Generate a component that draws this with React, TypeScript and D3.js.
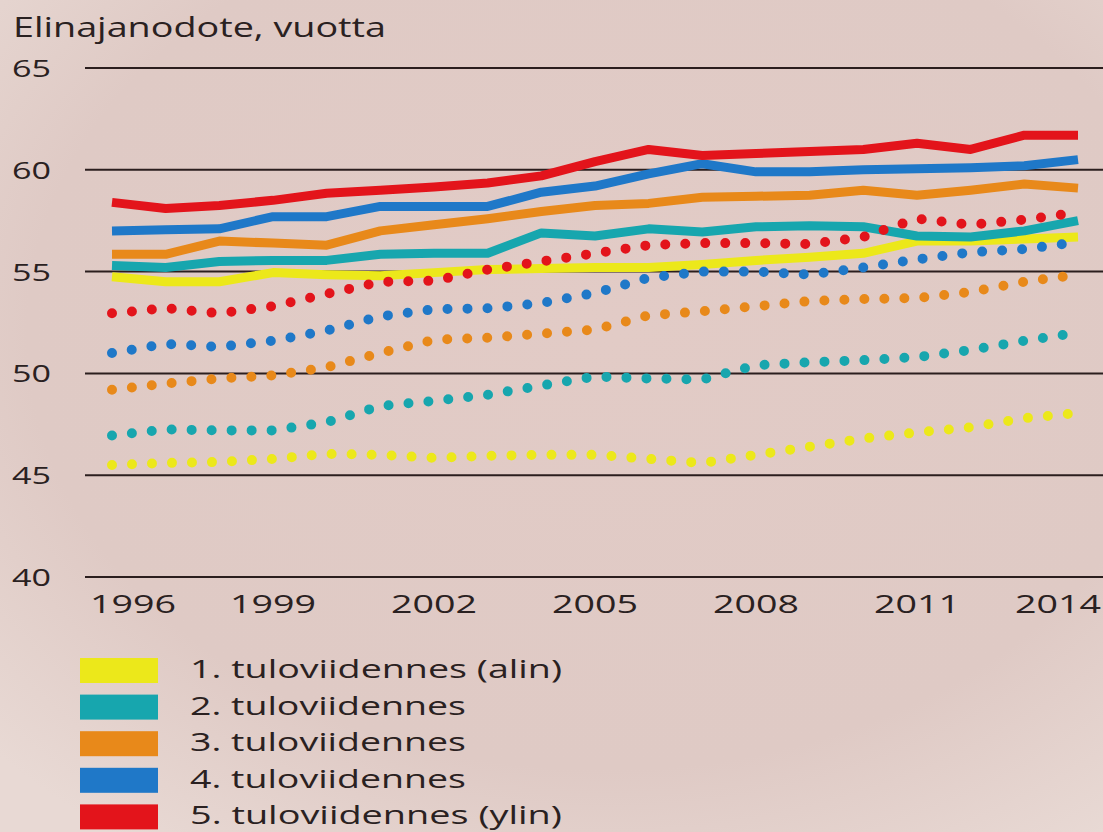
import * as d3 from "d3";
import { useEffect, useRef } from "react";

const years = d3.range(1996, 2015);

const groups = [
  "1. tuloviidennes (alin)",
  "2. tuloviidennes",
  "3. tuloviidennes",
  "4. tuloviidennes",
  "5. tuloviidennes (ylin)",
];
const colors = ["#ece81a", "#17a6ae", "#e8891a", "#1f78c8", "#e3141b"];

// solid lines
const solid1 = [54.75, 54.5, 54.5, 54.95, 54.85, 54.8, 54.95, 55.1, 55.15, 55.2, 55.2, 55.35, 55.55, 55.7, 55.9, 56.5, 56.5, 56.6, 56.7];
const solid2 = [55.3, 55.2, 55.5, 55.55, 55.55, 55.85, 55.9, 55.9, 56.9, 56.75, 57.1, 56.95, 57.2, 57.25, 57.2, 56.75, 56.7, 57.0, 57.5];
const solid3 = [55.85, 55.85, 56.5, 56.4, 56.3, 57.0, 57.3, 57.6, 57.95, 58.25, 58.35, 58.65, 58.7, 58.75, 59.0, 58.75, 59.0, 59.3, 59.1];
const solid4 = [57.0, 57.05, 57.1, 57.7, 57.7, 58.2, 58.2, 58.2, 58.9, 59.2, 59.8, 60.3, 59.9, 59.9, 60.0, 60.05, 60.1, 60.2, 60.5];
const solid5 = [58.4, 58.1, 58.25, 58.5, 58.85, 59.0, 59.15, 59.35, 59.7, 60.4, 61.0, 60.7, 60.8, 60.9, 61.0, 61.3, 61.0, 61.7, 61.7];

// dotted lines
const dot1 = [45.5, 45.6, 45.65, 45.8, 46.05, 46.0, 45.85, 45.95, 46.0, 46.0, 45.8, 45.6, 46.0, 46.4, 46.8, 47.1, 47.35, 47.8, 48.05];
const dot2 = [46.95, 47.25, 47.2, 47.2, 47.6, 48.4, 48.65, 48.95, 49.4, 49.85, 49.75, 49.7, 50.4, 50.55, 50.65, 50.8, 51.15, 51.6, 52.0];
const dot3 = [49.2, 49.5, 49.75, 49.9, 50.3, 51.0, 51.65, 51.75, 51.95, 52.15, 52.85, 53.05, 53.3, 53.55, 53.65, 53.7, 54.0, 54.5, 54.85];
const dot4 = [51.0, 51.45, 51.3, 51.6, 52.1, 52.8, 53.15, 53.2, 53.45, 53.95, 54.7, 55.0, 55.0, 54.85, 55.2, 55.6, 55.95, 56.1, 56.45];
const dot5 = [52.95, 53.2, 52.95, 53.3, 53.9, 54.5, 54.55, 55.1, 55.5, 55.9, 56.3, 56.4, 56.4, 56.35, 56.7, 57.6, 57.3, 57.55, 57.9];

const solidSeries = [solid1, solid2, solid3, solid4, solid5];
const dotSeries = [dot1, dot2, dot3, dot4, dot5];

const yTicks = [40, 45, 50, 55, 60, 65];
const xTicks = [1996, 1999, 2002, 2005, 2008, 2011, 2014];

const title = "Elinajanodote, vuotta";

const App = () => {
  const ref = useRef<SVGSVGElement | null>(null);

  useEffect(() => {
    if (!ref.current) return;
    const W = 1103,
      H = 832;
    const svg = d3.select(ref.current);
    svg.selectAll("*").remove();

    const defs = svg.append("defs");
    const grad = defs
      .append("radialGradient")
      .attr("id", "bg")
      .attr("cx", "55%")
      .attr("cy", "40%")
      .attr("r", "75%");
    grad.append("stop").attr("offset", "0%").attr("stop-color", "#e2cbc6");
    grad.append("stop").attr("offset", "70%").attr("stop-color", "#dfcac5");
    grad.append("stop").attr("offset", "100%").attr("stop-color", "#e8d9d4");

    svg.append("rect").attr("width", W).attr("height", H).attr("fill", "url(#bg)");

    const font = "'Open Sans', 'DejaVu Sans', sans-serif";
    const ink = "#2a2121";

    const x = d3.scaleLinear().domain([1996, 2014]).range([112, 1078]);
    const y = d3.scaleLinear().domain([40, 65]).range([577, 68]);

    // gridlines
    svg
      .append("g")
      .selectAll("line")
      .data(yTicks)
      .enter()
      .append("line")
      .attr("x1", 85)
      .attr("x2", W)
      .attr("y1", (d) => y(d))
      .attr("y2", (d) => y(d))
      .attr("stroke", "#2b1e1e")
      .attr("stroke-width", 2);

    // the original type is wide, so texts are stretched to its widths
    svg
      .append("g")
      .selectAll("text")
      .data(yTicks)
      .enter()
      .append("text")
      .attr("x", 12)
      .attr("y", (d) => y(d) + 9)
      .attr("font-family", font)
      .attr("font-size", 24)
      .attr("textLength", 39)
      .attr("lengthAdjust", "spacingAndGlyphs")
      .attr("fill", ink)
      .text((d) => String(d));

    svg
      .append("text")
      .attr("x", 13)
      .attr("y", 37)
      .attr("font-family", font)
      .attr("font-size", 28)
      .attr("textLength", 373)
      .attr("lengthAdjust", "spacingAndGlyphs")
      .attr("fill", ink)
      .text(title);

    svg
      .append("g")
      .selectAll("text")
      .data(xTicks)
      .enter()
      .append("text")
      .attr("x", (d) => Math.max(133, Math.min(1058, x(d))))
      .attr("y", 613)
      .attr("text-anchor", "middle")
      .attr("font-family", font)
      .attr("font-size", 25)
      .attr("textLength", 86)
      .attr("lengthAdjust", "spacingAndGlyphs")
      .attr("fill", ink)
      .text((d) => String(d));

    const line = d3
      .line<number>()
      .x((_d, i) => x(years[i]))
      .y((d) => y(d));

    svg
      .append("g")
      .selectAll("path")
      .data(solidSeries)
      .enter()
      .append("path")
      .attr("d", (d) => line(d))
      .attr("fill", "none")
      .attr("stroke", (_d, i) => colors[i])
      .attr("stroke-width", 9)
      .attr("stroke-linejoin", "round");

    svg
      .append("g")
      .selectAll("path")
      .data(dotSeries)
      .enter()
      .append("path")
      .attr("d", (d) => line(d))
      .attr("fill", "none")
      .attr("stroke", (_d, i) => colors[i])
      .attr("stroke-width", 10)
      .attr("stroke-linecap", "round")
      .attr("stroke-dasharray", "0 20");

    // legend
    const lg = svg
      .append("g")
      .selectAll("g")
      .data(groups)
      .enter()
      .append("g")
      .attr("transform", (_d, i) => `translate(80, ${658 + i * 36.6})`);
    lg.append("rect")
      .attr("width", 78)
      .attr("height", 25)
      .attr("fill", (_d, i) => colors[i]);
    lg.append("text")
      .attr("x", 110)
      .attr("y", 20)
      .attr("font-family", font)
      .attr("font-size", 26)
      .attr("textLength", (d) => (d.length > 18 ? 372 : 276))
      .attr("lengthAdjust", "spacingAndGlyphs")
      .attr("fill", ink)
      .text((d) => d);
  }, []);

  return (
    <svg
      ref={ref}
      width={1103}
      height={832}
      style={{ position: "absolute", left: 0, top: 0 }}
    />
  );
};

export default App;
